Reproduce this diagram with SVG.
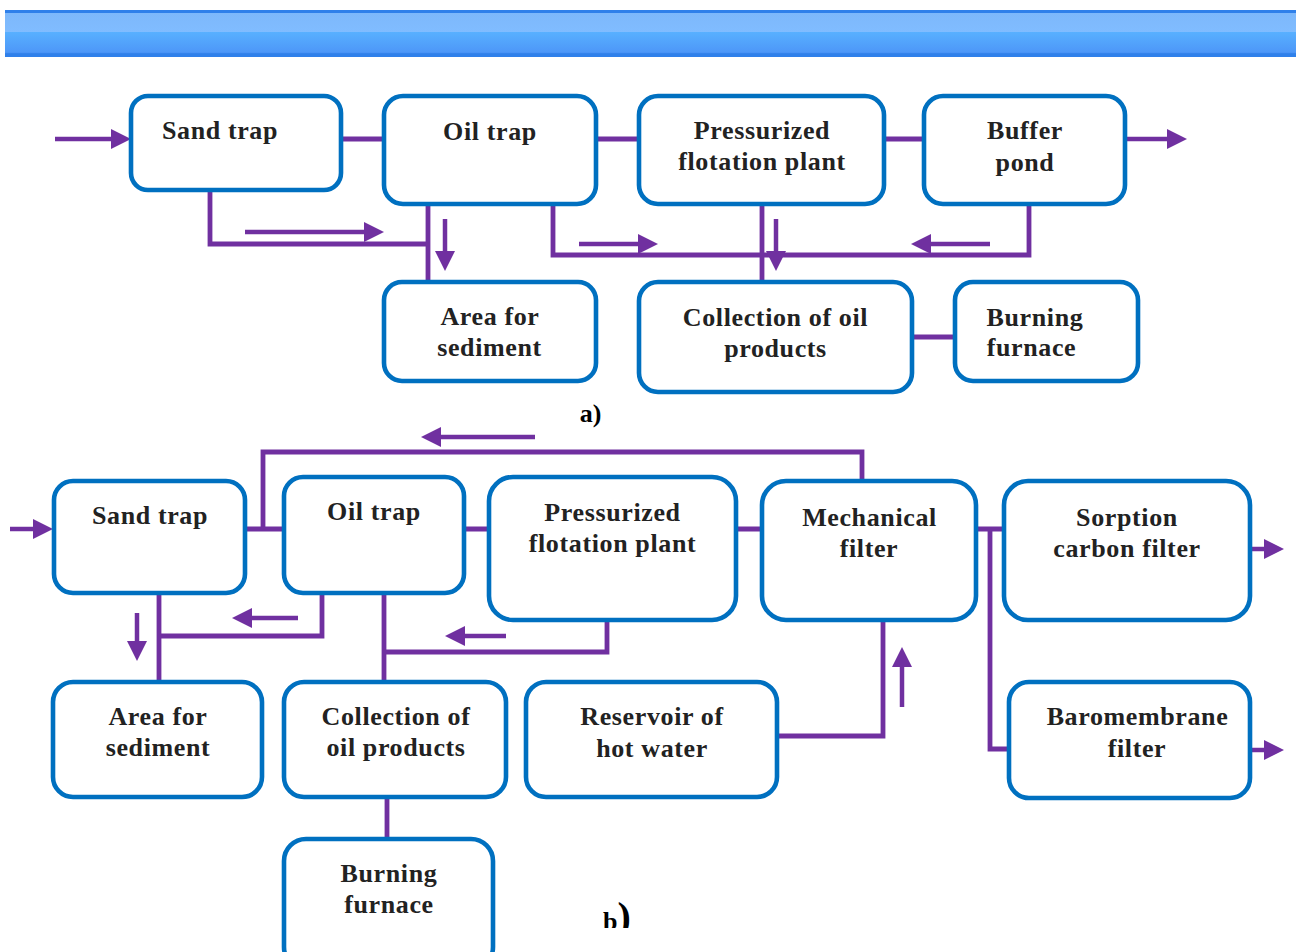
<svg xmlns="http://www.w3.org/2000/svg" width="1296" height="952" viewBox="0 0 1296 952">
<style>
.box{fill:#fff;stroke:#0070c0;stroke-width:4.6}
.w{fill:none;stroke:#7030a0;stroke-width:4.8}
.ar{fill:none;stroke:#7030a0;stroke-width:4.5}
text{font-family:"Liberation Serif","Times New Roman",serif;font-weight:700;font-size:26px;fill:#222;text-anchor:middle;letter-spacing:.62px}
.lab{fill:#000;font-size:26px;letter-spacing:0}
</style>
<defs>
<linearGradient id="g" x1="0" y1="0" x2="0" y2="1"><stop offset="0" stop-color="#2f80ea"/><stop offset=".06" stop-color="#2f80ea"/><stop offset=".07" stop-color="#7db8fb"/><stop offset=".46" stop-color="#80bcff"/><stop offset=".47" stop-color="#58b0ff"/><stop offset=".9" stop-color="#4d97f8"/><stop offset=".93" stop-color="#2f80ea"/><stop offset="1" stop-color="#2f80ea"/></linearGradient>
<marker id="ah" markerUnits="userSpaceOnUse" markerWidth="20" markerHeight="20" refX="0" refY="10" orient="auto"><path d="M0 0L20 10L0 20Z" fill="#7030a0"/></marker>
<clipPath id="cb"><rect x="590" y="880" width="60" height="48"/></clipPath>
</defs>
<rect id="header" x="5" y="10" width="1291" height="47" fill="url(#g)"/>
<g id="connectors">
<path class="w" d="M341 139H383M596 139H639M884 139H924M210 190V244H428M428 204V282M553 204V255H1029V204M762 204V282M911 337H955"/>
<path class="ar" marker-end="url(#ah)" d="M55 139H111"/>
<path class="ar" marker-end="url(#ah)" d="M1125 139H1167"/>
<path class="ar" marker-end="url(#ah)" d="M245 232H364"/>
<path class="ar" marker-end="url(#ah)" d="M445 219V251"/>
<path class="ar" marker-end="url(#ah)" d="M579 244H638"/>
<path class="ar" marker-end="url(#ah)" d="M776 219V251"/>
<path class="ar" marker-end="url(#ah)" d="M990 244H931"/>
<path class="w" d="M245 529H284M464 529H489M736 529H762M977 529H1003M263 529V452H862V480M159 593V682M159 636H322V593M384 593V682M384 652H607V620M778 736H883V620M990 529V749H1009M387 797V839"/>
<path class="ar" marker-end="url(#ah)" d="M10 529H33"/>
<path class="ar" marker-end="url(#ah)" d="M1250 549H1264"/>
<path class="ar" marker-end="url(#ah)" d="M1250 750H1264"/>
<path class="ar" marker-end="url(#ah)" d="M535 437H441"/>
<path class="ar" marker-end="url(#ah)" d="M137 613V641"/>
<path class="ar" marker-end="url(#ah)" d="M298 618H252"/>
<path class="ar" marker-end="url(#ah)" d="M506 636H465"/>
<path class="ar" marker-end="url(#ah)" d="M902 707V667"/>
</g>
<g id="a-sand"><rect class="box" x="131" y="96" width="210" height="94" rx="17"/><text x="220" y="139">Sand trap</text></g>
<g id="a-oil"><rect class="box" x="384" y="96" width="212" height="108" rx="19"/><text x="490" y="140">Oil trap</text></g>
<g id="a-press"><rect class="box" x="639" y="96" width="245" height="108" rx="19"/><text x="762" y="139">Pressurized</text><text x="762" y="170">flotation plant</text></g>
<g id="a-buffer"><rect class="box" x="924" y="96" width="201" height="108" rx="19"/><text x="1025" y="139">Buffer</text><text x="1025" y="171">pond</text></g>
<g id="a-area"><rect class="box" x="384" y="282" width="212" height="99" rx="18"/><text x="490" y="325">Area for</text><text x="489.500" y="356">sediment</text></g>
<g id="a-coll"><rect class="box" x="639" y="282" width="273" height="110" rx="19"/><text x="775.500" y="326">Collection of oil</text><text x="775.500" y="357">products</text></g>
<g id="a-burn"><rect class="box" x="955" y="282" width="183" height="99" rx="18"/><text x="1035" y="326">Burning</text><text x="1031.500" y="356">furnace</text></g>
<text class="lab" x="590.500" y="422">a)</text>
<g id="b-sand"><rect class="box" x="54" y="481" width="191" height="112" rx="19"/><text x="150" y="524">Sand trap</text></g>
<g id="b-oil"><rect class="box" x="284" y="477" width="180" height="116" rx="19"/><text x="374" y="520">Oil trap</text></g>
<g id="b-press"><rect class="box" x="489" y="477" width="247" height="143" rx="24"/><text x="612.500" y="521">Pressurized</text><text x="612.500" y="552">flotation plant</text></g>
<g id="b-mech"><rect class="box" x="762" y="481" width="214" height="139" rx="24"/><text x="869.500" y="526">Mechanical</text><text x="869" y="557">filter</text></g>
<g id="b-sorp"><rect class="box" x="1004" y="481" width="246" height="139" rx="24"/><text x="1127" y="526">Sorption</text><text x="1127" y="557">carbon filter</text></g>
<g id="b-baro"><rect class="box" x="1009" y="682" width="241" height="116" rx="20"/><text x="1137.500" y="725">Baromembrane</text><text x="1137" y="757">filter</text></g>
<g id="b-area"><rect class="box" x="53" y="682" width="209" height="115" rx="20"/><text x="158" y="725">Area for</text><text x="158" y="756">sediment</text></g>
<g id="b-coll"><rect class="box" x="284" y="682" width="222" height="115" rx="20"/><text x="396" y="725">Collection of</text><text x="396" y="756">oil products</text></g>
<g id="b-res"><rect class="box" x="526" y="682" width="251" height="115" rx="20"/><text x="652" y="725">Reservoir of</text><text x="652" y="757">hot water</text></g>
<g id="b-burn"><rect class="box" x="284" y="839" width="209" height="130" rx="22"/><text x="389" y="882">Burning</text><text x="389" y="913">furnace</text></g>
<g clip-path="url(#cb)"><text class="lab" x="617" y="930" style="fill:#000">b<tspan font-size="40">)</tspan></text></g>
</svg>
